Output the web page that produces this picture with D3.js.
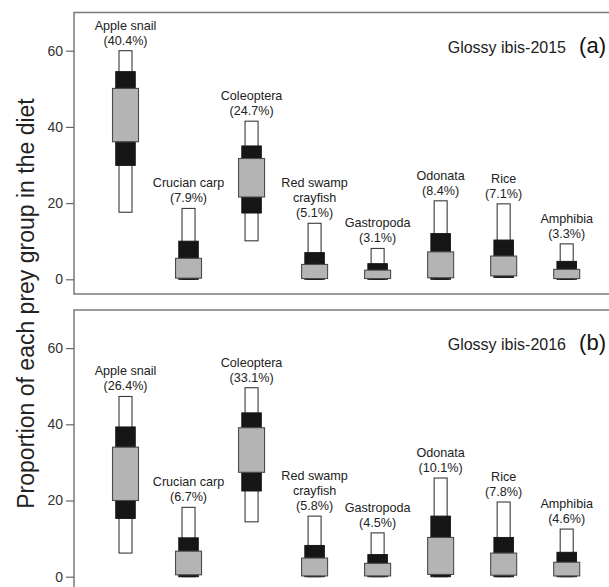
<!DOCTYPE html>
<html><head><meta charset="utf-8">
<script src="https://cdn.jsdelivr.net/npm/d3@7"></script>
<style>body{margin:0;background:#fff}svg{display:block;font-family:"Liberation Sans",Arial,sans-serif}</style>
</head><body>
<svg id="c" width="609" height="587"></svg>
<script>
const categories = ["Apple snail","Crucian carp","Coleoptera","Red swamp crayfish","Gastropoda","Odonata","Rice","Amphibia"];
const labelLines = [["Apple snail"],["Crucian carp"],["Coleoptera"],["Red swamp","crayfish"],["Gastropoda"],["Odonata"],["Rice"],["Amphibia"]];
const yTicks = [0,20,40,60];
const panelTitles = ["Glossy ibis-2015","Glossy ibis-2016"];
const panelTags = ["(a)","(b)"];
const pct2015 = [40.4,7.9,24.7,5.1,3.1,8.4,7.1,3.3];
const pct2016 = [26.4,6.7,33.1,5.8,4.5,10.1,7.8,4.6];
// credible intervals [low, high] (% of diet)
const ci95_2015 = [[17.6,60.0],[0,18.6],[10.1,41.5],[0,14.7],[0,8.1],[0,20.6],[0.5,19.8],[0,9.3]];
const ci75_2015 = [[29.9,54.5],[0,10.0],[17.4,35.0],[0,7.0],[0,4.1],[0,12.0],[0.5,10.3],[0,4.7]];
const ci50_2015 = [[36.1,50.1],[0.3,5.5],[21.6,31.7],[0.2,3.9],[0.2,2.4],[0.4,7.2],[0.9,6.1],[0.2,2.6]];
const ci95_2016 = [[6.2,47.3],[0,18.2],[14.4,49.6],[0,15.9],[0,11.5],[0,25.9],[0,19.6],[0,12.5]];
const ci75_2016 = [[15.3,39.3],[0,10.2],[22.5,43.0],[0,8.2],[0,5.8],[0,15.9],[0,10.3],[0,6.4]];
const ci50_2016 = [[20.0,34.0],[0.5,6.7],[27.4,39.1],[0.2,4.9],[0.2,3.5],[0.6,10.3],[0.4,6.2],[0.2,3.8]];

const panels = [
  {pct:pct2015, c95:ci95_2015, c75:ci75_2015, c50:ci50_2015, y0:279.3, top:12.5, bottom:294},
  {pct:pct2016, c95:ci95_2016, c75:ci75_2016, c50:ci50_2016, y0:576.7, top:310, bottom:593}
];

const svg = d3.select("#c");
const x = d3.scalePoint().domain(categories).range([125.5, 566.7]);
const frameLeft = 74;

panels.forEach((p, pi) => {
  const y = d3.scaleLinear().domain([0,60]).range([p.y0, p.y0 - 228.6]);
  const g = svg.append("g");
  // frame
  g.append("path")
    .attr("d", `M${frameLeft},${p.top}H615V${p.bottom}H${frameLeft}Z`)
    .attr("fill","none").attr("stroke","#7a7a7a").attr("stroke-width",1.5);
  // axis
  const ax = g.append("g").attr("transform",`translate(${frameLeft},0)`)
    .call(d3.axisLeft(y).tickValues(yTicks).tickSize(8).tickPadding(3));
  ax.select(".domain").remove();
  ax.selectAll(".tick line").attr("stroke","#666").attr("stroke-width",1.2);
  ax.selectAll(".tick text").attr("fill","#333").style("font-size","14px")
    .style("font-family","'Liberation Sans',Arial,sans-serif");

  const idx = d3.range(categories.length);
  const box = (data, w, fill, stroke, sw) => {
    g.selectAll(null).data(idx).enter().append("rect")
      .attr("x", i => x(categories[i]) - w/2)
      .attr("width", w)
      .attr("y", i => y(data[i][1]))
      .attr("height", i => Math.max(0.5, y(data[i][0]) - y(data[i][1])))
      .attr("fill", fill).attr("stroke", stroke).attr("stroke-width", sw);
  };
  box(p.c95, 13, "#ffffff", "#3a3a3a", 1.1);
  box(p.c75, 19.5, "#161616", "#161616", 1);
  box(p.c50, 26, "#b4b4b4", "#4a4a4a", 1.1);

  // labels
  idx.forEach(i => {
    const lines = labelLines[i].concat([`(${p.pct[i].toFixed(1)}%)`]);
    const base = y(p.c95[i][1]) - 6;
    const n = lines.length;
    lines.forEach((t, k) => {
      g.append("text").attr("x", x(categories[i])).attr("y", base - (n-1-k)*15)
        .attr("text-anchor","middle").attr("fill","#222").style("font-size","12.6px").text(t);
    });
  });

  // title
  g.append("text").attr("x", 566).attr("y", y(60) + 2).attr("text-anchor","end")
    .attr("fill","#222").style("font-size","16px").text(panelTitles[pi]);
  g.append("text").attr("x", 606).attr("y", y(60) + 2).attr("text-anchor","end")
    .attr("fill","#111").style("font-size","22px").text(panelTags[pi]);
});

// y axis title
svg.append("text").attr("transform","translate(34,303.5) rotate(-90)")
  .attr("text-anchor","middle").attr("fill","#222").style("font-size","23px")
  .text("Proportion of each prey group in the diet");
</script>
</body></html>
